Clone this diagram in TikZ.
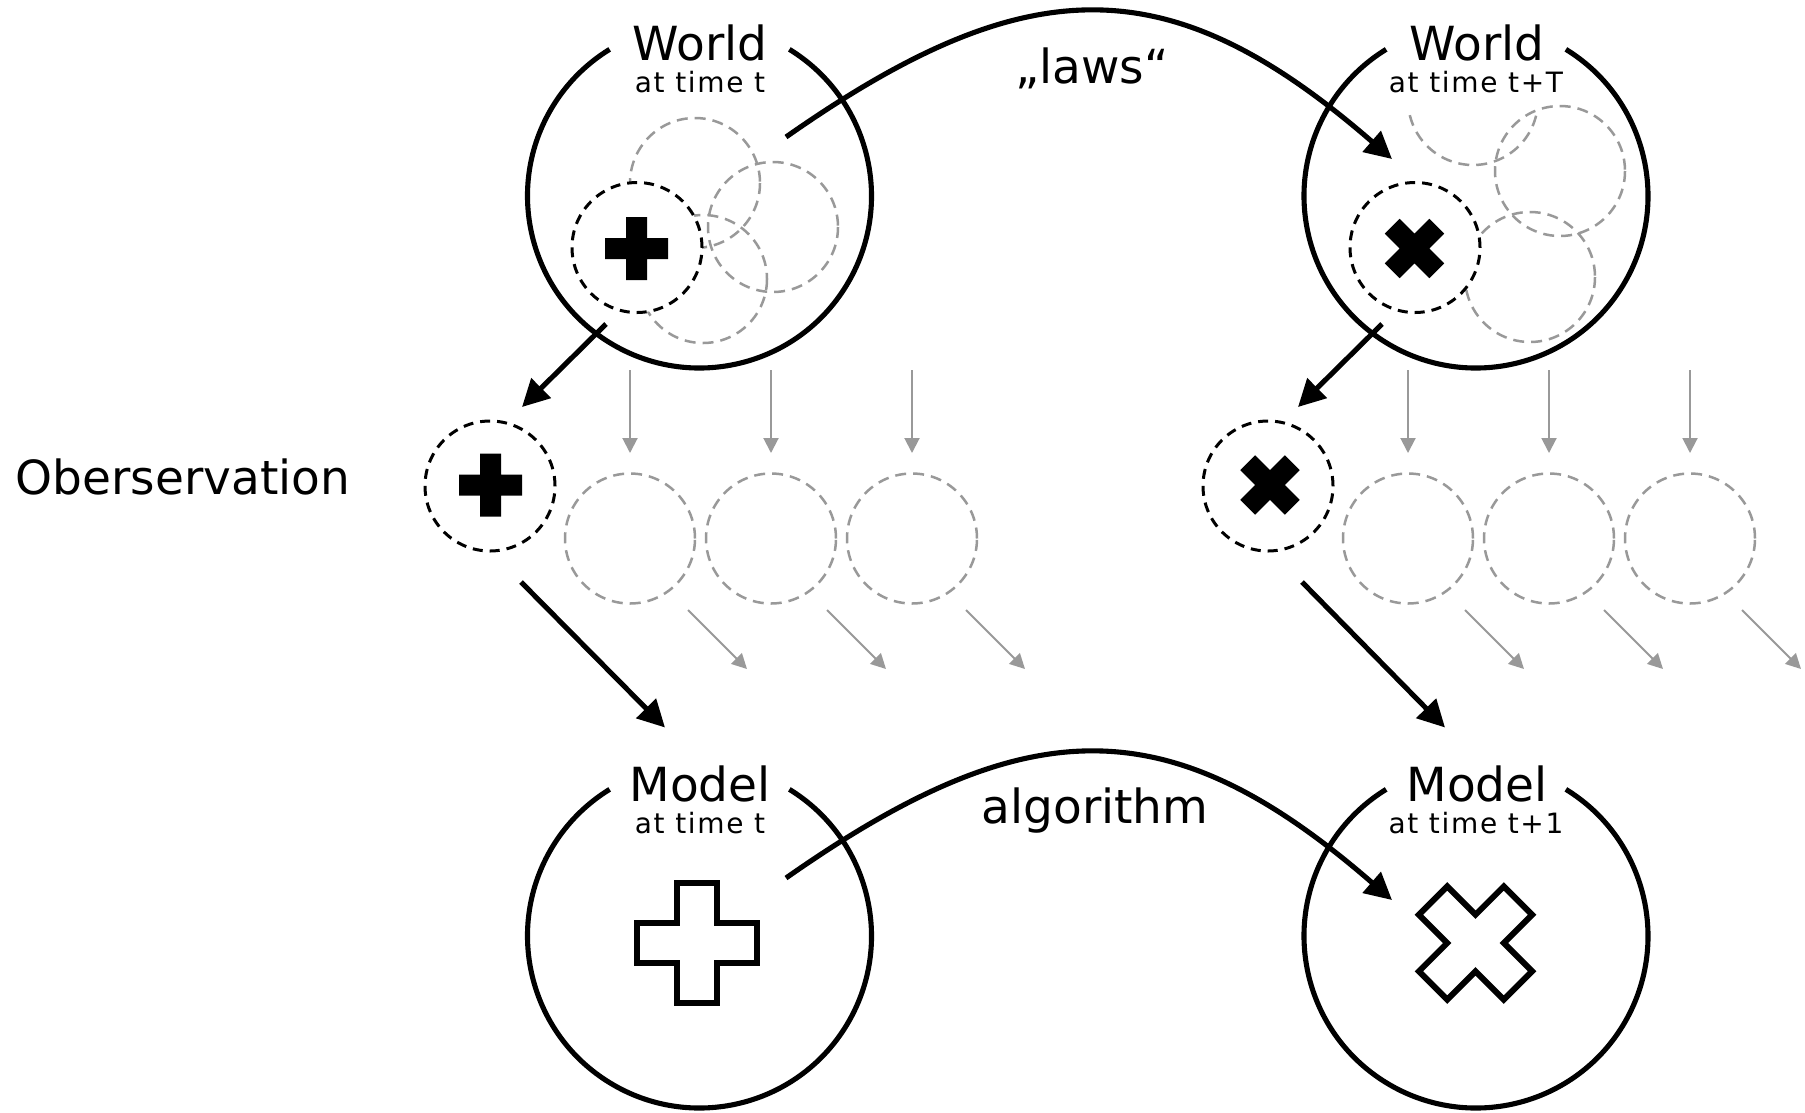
\documentclass[tikz,border=0pt]{standalone}
\usepackage{fontspec}
\setmainfont{DejaVu Sans}
\usetikzlibrary{arrows.meta}
\definecolor{faint}{HTML}{999999}

\begin{document}
\begin{tikzpicture}[x=1pt,y=-1pt,
  frame/.style={line width=5.1pt},
  bigarrow/.style={line width=5.1pt,-{Triangle[length=27pt,width=27pt]}},
  grayarrow/.style={faint,line width=2pt,-{Triangle[length=15pt,width=15pt]}},
  ghost/.style={faint,line width=2.5pt,dash pattern=on 11pt off 7pt},
  ghostcircle/.style={ghost,draw,circle,minimum size=130pt,inner sep=0pt},
  focus/.style={draw,circle,fill=white,minimum size=130pt,inner sep=0pt,
    line width=3pt,dash pattern=on 10pt off 7pt},
  title/.style={font=\fontsize{47}{47}\selectfont,inner sep=0pt,anchor=base},
  subtitle/.style={font=\fontsize{28}{28}\selectfont\addfontfeature{LetterSpace=6},
    inner sep=0pt,anchor=base},
  crossshape/.pic={\path[pic actions] (-1,-3) -- (1,-3) -- (1,-1) -- (3,-1) -- (3,1)
    -- (1,1) -- (1,3) -- (-1,3) -- (-1,1) -- (-3,1) -- (-3,-1) -- (-1,-1) -- cycle;}
]
\useasboundingbox[fill=white] (0,0) rectangle (1805,1112);

% centres of the four large circles
\coordinate (worldL) at (699.5,196);
\coordinate (worldR) at (1476,196);
\coordinate (modelL) at (699.5,936);
\coordinate (modelR) at (1476,936);

% large circles, open at the top for their titles
\foreach \c in {worldL,worldR,modelL,modelR}
  \draw[frame] (\c) ++(-58.5:172) arc[start angle=-58.5,end angle=238.5,radius=172];

% possible states inside the world at time t
\draw[ghost] (695,183) circle[radius=65];
\draw[ghost] (773,227) circle[radius=65];
\draw[ghost] (703,279) circle[radius=64];
% possible states inside the world at time t+T
\draw[ghost] (1473,100) ++(14:65) arc[start angle=14,end angle=170,radius=65];
\draw[ghost] (1560,171) circle[radius=65];
\draw[ghost] (1530,277) circle[radius=65];

% the actual state of the world
\node[focus] (stateL) at (637,247.5) {};
\node[focus] (stateR) at (1415,247.5) {};
\pic[fill=black,scale=10.5] at (636.5,248.5) {crossshape};
\pic[fill=black,scale=10.5,rotate=45] at (1414.5,248.5) {crossshape};

% observations
\node[focus] (obsL) at (490,486) {};
\node[focus] (obsR) at (1268,486) {};
\pic[fill=black,scale=10.5] at (490.5,485) {crossshape};
\pic[fill=black,scale=10.5,rotate=45] at (1270,485) {crossshape};

% other possible observations
\foreach \x [count=\i] in {630,771,912} {
  \node[ghostcircle] (gL\i) at (\x,538.5) {};
  \coordinate (vL\i) at (\x,370);
  \coordinate (vtL\i) at (\x,453);
  \draw[grayarrow] (vL\i) -- (vtL\i);
}
\foreach \x [count=\i] in {1408,1549,1690} {
  \node[ghostcircle] (gR\i) at (\x,538.5) {};
  \coordinate (vR\i) at (\x,370);
  \coordinate (vtR\i) at (\x,453);
  \draw[grayarrow] (vR\i) -- (vtR\i);
}
\foreach \a/\b [count=\i] in {688/747,827/886,966/1025,1465/1524,1604/1663,1742/1801} {
  \coordinate (dA\i) at (\a,610);
  \coordinate (dB\i) at (\b,669);
  \draw[grayarrow] (dA\i) -- (dB\i);
}

% model states
\pic[draw,line width=6pt,scale=20] at (697,943) {crossshape};
\pic[draw,line width=6pt,scale=20,rotate=45] at (1475.5,943) {crossshape};

% titles
\node[title] (tWL) at (700,60) {World};
\node[subtitle] (sWL) at (700,92) {at time t};
\node[title] (tWR) at (1477,60) {World};
\node[subtitle] (sWR) at (1476,92) {at time t+T};
\node[title] (tML) at (700,801) {Model};
\node[subtitle] (sML) at (700,833) {at time t};
\node[title] (tMR) at (1477,801) {Model};
\node[subtitle] (sMR) at (1476,833) {at time t+1};
\node[title] (laws) at (1092,83) {„laws“};
\node[title] (algo) at (1095,823) {algorithm};
\node[title] (obslabel) at (183,494) {Oberservation};

% evolution of the world and of the model
\coordinate (lawsFrom) at (786,137);
\coordinate (lawsTo) at (1392,159);
\draw[bigarrow] (lawsFrom) .. controls (1027.6,-32.3) and (1169.3,-34.5) .. (lawsTo);
\coordinate (algoFrom) at (786,878);
\coordinate (algoTo) at (1392,900);
\draw[bigarrow] (algoFrom) .. controls (1027.6,708.7) and (1169.3,706.5) .. (algoTo);

% observing and modelling
\coordinate (obsFromL) at (606,324);
\coordinate (obsToL) at (522,407);
\draw[bigarrow] (obsFromL) -- (obsToL);
\coordinate (obsFromR) at (1382,324);
\coordinate (obsToR) at (1298,407);
\draw[bigarrow] (obsFromR) -- (obsToR);
\coordinate (modFromL) at (521,582);
\coordinate (modToL) at (665,727.5);
\draw[bigarrow] (modFromL) -- (modToL);
\coordinate (modFromR) at (1302,582);
\coordinate (modToR) at (1445,727.5);
\draw[bigarrow] (modFromR) -- (modToR);
\end{tikzpicture}
\end{document}
